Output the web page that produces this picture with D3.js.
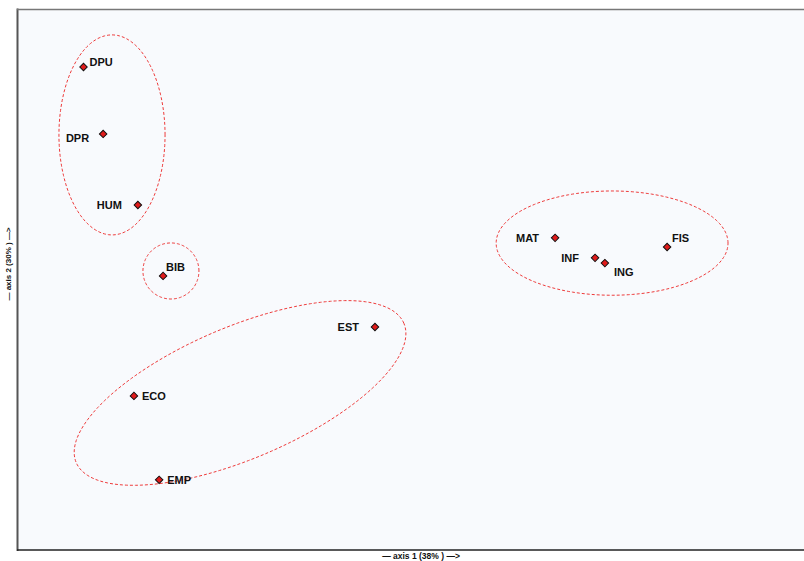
<!DOCTYPE html>
<html>
<head>
<meta charset="utf-8">
<script src="https://cdn.jsdelivr.net/npm/d3@7"></script>
<style>
  html, body { margin: 0; padding: 0; background: #ffffff; }
  svg { display: block; }
  text { font-family: "Liberation Sans", Arial, sans-serif; }
</style>
</head>
<body>
<script>
// Factor scores on the first two axes
const labels = ["DPU", "DPR", "HUM", "BIB", "EST", "ECO", "EMP", "MAT", "INF", "ING", "FIS"];
const axis1 = [-0.800, -0.740, -0.634, -0.557, 0.090, -0.646, -0.569, 0.640, 0.762, 0.792, 0.982];
const axis2 = [0.573, 0.369, 0.152, -0.064, -0.220, -0.430, -0.686, 0.052, -0.009, -0.025, 0.024];
// label placement: side of the point
const labelSide = ["right", "leftLow", "left", "above", "left", "rightMid", "rightMid", "left", "left", "below", "aboveRight"];

// Cluster ellipses: centre, semi-axes and tilt (degrees), in axis units
const groupCx = [-0.713, -0.533, -0.322, 0.814];
const groupCy = [0.366, -0.049, -0.421, 0.036];
const groupA = [0.162, 0.0855, 0.5435, 0.354];
const groupB = [0.305, 0.0855, 0.201, 0.159];
const groupTilt = [0, 0, 23, 0];

const xLabel = "\u2014 axis 1 (38% ) \u2014>";
const yLabel = "\u2014 axis 2 (30% ) \u2014>";

const W = 804, H = 561;
const padL = 18, padT = 9.5, padB = 550, padR = 806;

const svg = d3.select("body").append("svg").attr("width", W).attr("height", H);

const x = d3.scaleLinear().domain([-1, 1.4]).range([padL, padL + 786]);
const y = d3.scaleLinear().domain([-0.9, 0.75]).range([padB, padT - 0.5]);

// plot area
svg.append("rect")
  .attr("x", padL).attr("y", padT).attr("width", padR - padL).attr("height", padB - padT)
  .attr("fill", "#f8fafd");
svg.append("line").attr("x1", padL - 0.5).attr("x2", padL - 0.5).attr("y1", padT - 1).attr("y2", padB + 1)
  .attr("stroke", "#555").attr("stroke-width", 2);
svg.append("line").attr("x1", padL - 1).attr("x2", W).attr("y1", padT).attr("y2", padT)
  .attr("stroke", "#777").attr("stroke-width", 1.5);
svg.append("line").attr("x1", padL - 1).attr("x2", W).attr("y1", padB).attr("y2", padB)
  .attr("stroke", "#222").attr("stroke-width", 1.5);

// ellipses
const line = d3.line().x(d => x(d[0])).y(d => y(d[1]));
groupCx.forEach((cx, i) => {
  const th = groupTilt[i] * Math.PI / 180;
  const pts = d3.range(0, 361, 2).map(deg => {
    const t = deg * Math.PI / 180;
    const u = groupA[i] * Math.cos(t), v = groupB[i] * Math.sin(t);
    return [cx + u * Math.cos(th) - v * Math.sin(th), groupCy[i] + u * Math.sin(th) + v * Math.cos(th)];
  });
  svg.append("path").attr("d", line(pts))
    .attr("fill", "none").attr("stroke", "#ee3a3a").attr("stroke-width", 1)
    .attr("stroke-dasharray", "3,2");
});

// points
const pts = labels.map((l, i) => ({ l, x: axis1[i], y: axis2[i], side: labelSide[i] }));
svg.selectAll("path.pt").data(pts).join("path")
  .attr("class", "pt")
  .attr("d", d3.symbol().type(d3.symbolSquare).size(28))
  .attr("transform", d => `translate(${x(d.x)},${y(d.y)}) rotate(45)`)
  .attr("fill", "#e01b1b").attr("stroke", "#111").attr("stroke-width", 1);

const off = {
  right: [6, -1, "start"], rightMid: [8, 4, "start"],
  left: [-16, 4, "end"], leftLow: [-14, 8, "end"], above: [3, -5, "start"],
  below: [9, 13, "start"], aboveRight: [5, -5, "start"]
};
svg.selectAll("text.lb").data(pts).join("text")
  .attr("class", "lb")
  .attr("x", d => x(d.x) + off[d.side][0])
  .attr("y", d => y(d.y) + off[d.side][1])
  .attr("text-anchor", d => off[d.side][2])
  .attr("font-size", 11).attr("font-weight", "bold").attr("fill", "#111")
  .text(d => d.l);

// axis titles
svg.append("text").attr("x", 421).attr("y", 559).attr("text-anchor", "middle")
  .attr("font-size", 8.5).attr("font-weight", "bold").attr("fill", "#111").text(xLabel);
svg.append("text").attr("transform", "translate(11,264) rotate(-90)").attr("text-anchor", "middle")
  .attr("font-size", 8).attr("font-weight", "bold").attr("fill", "#111").text(yLabel);
</script>
</body>
</html>
